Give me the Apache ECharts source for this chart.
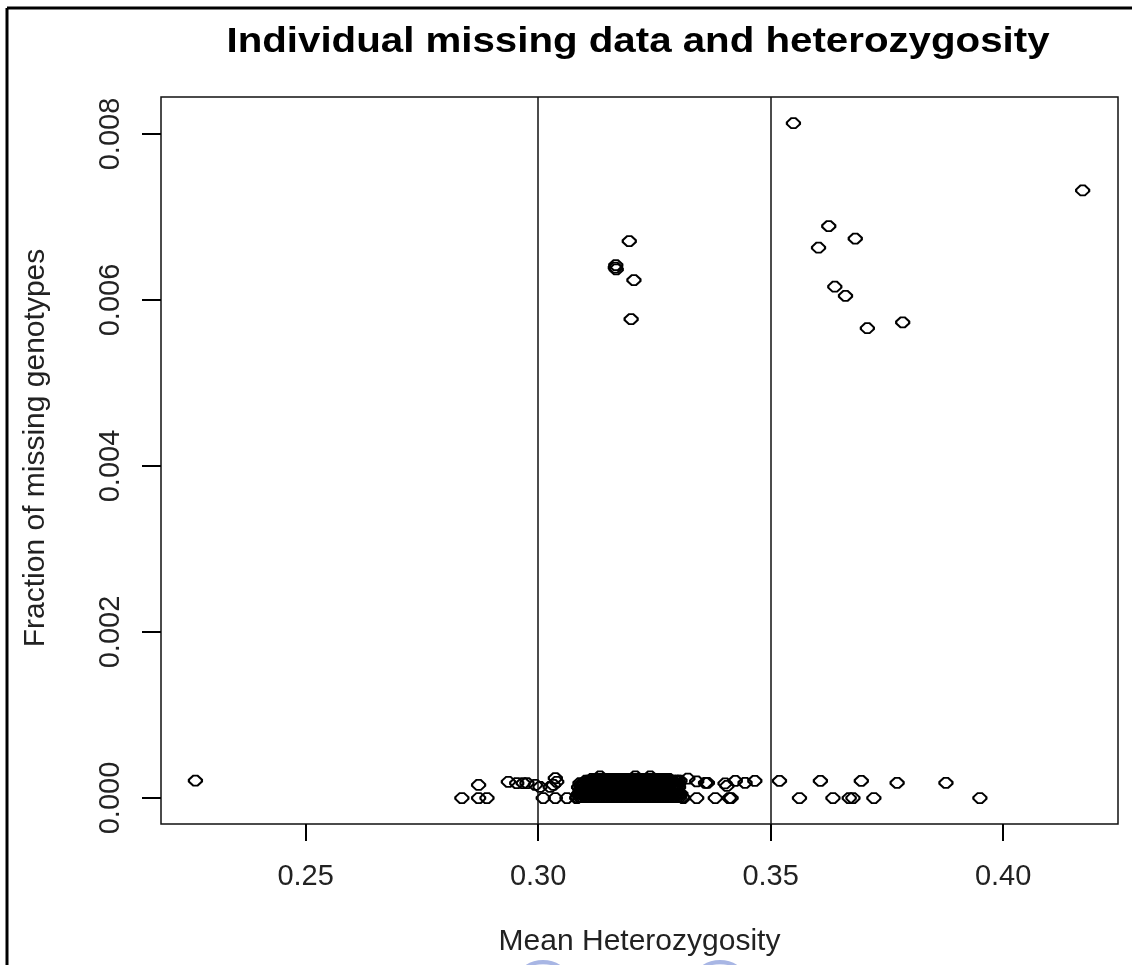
<!DOCTYPE html>
<html>
<head>
<meta charset="utf-8">
<script src="https://cdn.jsdelivr.net/npm/echarts@6/dist/echarts.min.js"></script>
<style>
html,body{margin:0;padding:0;background:#fff;}
#chart{width:1132px;height:965px;}
</style>
</head>
<body>
<div id="chart"></div>
<script>
const chartTitle = 'Individual missing data and heterozygosity';
const xName = 'Mean Heterozygosity';
const yName = 'Fraction of missing genotypes';
const xTicks = [0.25, 0.30, 0.35, 0.40];
const yTicks = [0.000, 0.002, 0.004, 0.006, 0.008];
const thresholds = [0.30, 0.35];

// isolated high-missingness individuals
const upperHet  = [0.3196, 0.3167, 0.3168, 0.3166, 0.3206, 0.3200, 0.3549, 0.4171, 0.3625, 0.3682, 0.3603, 0.3638, 0.3661, 0.3708, 0.3784];
const upperMiss = [0.00671, 0.00642, 0.00637, 0.00639, 0.00624, 0.00577, 0.00813, 0.00732, 0.00689, 0.00674, 0.00663, 0.00616, 0.00605, 0.00566, 0.00573];

// low-missingness individuals around the main cluster
const lowHet  = [0.2263, 0.2836, 0.2872, 0.2872, 0.2890, 0.2936, 0.2954, 0.2968, 0.2976, 0.2994, 0.3004, 0.3011, 0.3026, 0.3033, 0.3037, 0.3040, 0.3037, 0.3062, 0.3083, 0.3090, 0.3087,
                 0.3305, 0.3322, 0.3341, 0.3360, 0.3364, 0.3312, 0.3341, 0.3381, 0.3402, 0.3406, 0.3411, 0.3415, 0.3424, 0.3445, 0.3466, 0.3519, 0.3607, 0.3695, 0.3772, 0.3877, 0.3562, 0.3634, 0.3669, 0.3677, 0.3722, 0.3950];
const lowMiss = [0.00021, 0, 0.000157, 0, 0, 0.000196, 0.00018, 0.00018, 0.00018, 0.000157, 0.000133, 0, 0.000133, 0.000157, 0.00024, 0.000196, 0, 0, 0, 0.00018, 0.00013,
                 0.00021, 0.000235, 0.0002, 0.000183, 0.000183, 0, 0, 0, 0.000175, 0.000145, 0, 0, 0.000207, 0.000183, 0.000207, 0.000207, 0.000207, 0.000207, 0.000183, 0.000183, 0, 0, 0, 0, 0, 0];

// dense core: missingness level of each row and heterozygosity of its members
const coreMiss = [0.00001, 0.00005, 0.00009, 0.00013, 0.00017, 0.00021, 0.00023];
const coreHet0 = [0.3084,0.3090,0.3095,0.3101,0.3106,0.3112,0.3117,0.3123,0.3128,0.3134,0.3139,0.3145,0.3150,0.3156,0.3161,0.3167,0.3172,0.3178,0.3183,0.3189,0.3194,0.3200,0.3205,0.3211,0.3216,0.3222,0.3227,0.3233,0.3238,0.3244,0.3249,0.3255,0.3260,0.3266,0.3271,0.3277,0.3282,0.3288,0.3293,0.3299,0.3304,0.3310];
const coreHet1 = [0.3087,0.3093,0.3098,0.3104,0.3109,0.3115,0.3120,0.3126,0.3131,0.3137,0.3142,0.3148,0.3153,0.3159,0.3164,0.3170,0.3175,0.3181,0.3186,0.3192,0.3197,0.3203,0.3208,0.3214,0.3219,0.3225,0.3230,0.3236,0.3241,0.3247,0.3252,0.3258,0.3263,0.3269,0.3274,0.3280,0.3285,0.3291,0.3296,0.3302,0.3307];
const coreHet2 = [0.3090,0.3095,0.3101,0.3106,0.3112,0.3117,0.3123,0.3128,0.3134,0.3139,0.3145,0.3150,0.3156,0.3161,0.3167,0.3172,0.3178,0.3183,0.3189,0.3194,0.3200,0.3205,0.3211,0.3216,0.3222,0.3227,0.3233,0.3238,0.3244,0.3249,0.3254];
const coreHet3 = [0.3088,0.3093,0.3099,0.3104,0.3110,0.3115,0.3121,0.3126,0.3132,0.3137,0.3143,0.3148,0.3154,0.3159,0.3165,0.3170,0.3176,0.3181,0.3187,0.3192,0.3198,0.3203,0.3209,0.3214,0.3220,0.3225,0.3231,0.3236,0.3242,0.3247,0.3253,0.3258,0.3264,0.3269,0.3275,0.3280,0.3286,0.3291,0.3297,0.3302];
const coreHet4 = [0.3094,0.3099,0.3105,0.3110,0.3116,0.3121,0.3127,0.3132,0.3138,0.3143,0.3149,0.3154,0.3160,0.3165,0.3171,0.3176,0.3182,0.3187,0.3193,0.3198,0.3204,0.3209,0.3215,0.3220,0.3226,0.3231,0.3237,0.3242,0.3248,0.3253,0.3259,0.3264,0.3270,0.3275,0.3281,0.3286,0.3292,0.3297,0.3302];
const coreHet5 = [0.3103,0.3108,0.3114,0.3119,0.3125,0.3130,0.3136,0.3141,0.3147,0.3152,0.3158,0.3163,0.3169,0.3174,0.3180,0.3185,0.3191,0.3196,0.3202,0.3207,0.3213,0.3218,0.3224,0.3229,0.3235,0.3240,0.3246,0.3251,0.3257,0.3262,0.3268,0.3273,0.3279,0.3284,0.3290,0.3296,0.3301];
const coreHet6 = [0.3116,0.3122,0.3127,0.3133,0.3138,0.3144,0.3149,0.3155,0.3160,0.3166,0.3171,0.3177,0.3182,0.3188,0.3193,0.3199,0.3204,0.3210,0.3215,0.3221,0.3226,0.3232,0.3237,0.3243,0.3248,0.3254,0.3259,0.3265,0.3270,0.3276,0.3281];
const peakHet  = [0.3133, 0.3209, 0.3241];
const peakMiss = [0.00026, 0.00026, 0.00026];

const points = [];
upperHet.forEach((h, i) => points.push([h, upperMiss[i]]));
lowHet.forEach((h, i) => points.push([h, lowMiss[i]]));
[coreHet0, coreHet1, coreHet2, coreHet3, coreHet4, coreHet5, coreHet6].forEach((row, r) => row.forEach(h => points.push([h, coreMiss[r]])));
peakHet.forEach((h, i) => points.push([h, peakMiss[i]]));

const FONT = '"Liberation Sans", Arial, sans-serif';
const chart = echarts.init(document.getElementById('chart'), null, {renderer: 'canvas'});
chart.setOption({
  animation: false,
  backgroundColor: '#fff',
  grid: {left: 161, right: 14, top: 97, bottom: 141, show: true, borderColor: '#111', borderWidth: 1.5, backgroundColor: 'transparent'},
  xAxis: {
    type: 'value', min: 0.2189, max: 0.4247, position: 'bottom',
    splitLine: {show: false}, axisLine: {show: false, onZero: false},
    axisTick: {show: true, customValues: xTicks, length: 17, lineStyle: {color: '#000', width: 2}},
    axisLabel: {customValues: xTicks, formatter: v => v.toFixed(2), margin: 38, fontSize: 29, fontFamily: FONT, color: '#222'},
    name: xName, nameLocation: 'middle', nameGap: 103,
    nameTextStyle: {fontSize: 30, fontFamily: FONT, color: '#222'}
  },
  yAxis: {
    type: 'value', min: -0.000313, max: 0.008446, position: 'left',
    splitLine: {show: false}, axisLine: {show: false, onZero: false},
    axisTick: {show: true, customValues: yTicks, length: 19, lineStyle: {color: '#000', width: 2}},
    axisLabel: {customValues: yTicks, formatter: v => v.toFixed(3), rotate: 90, margin: 36, fontSize: 29, fontFamily: FONT, color: '#222'}
  },
  series: [{
    type: 'scatter',
    data: points,
    symbol: 'path://M4,0 L8,0 L12,4 L12,6 L8,10 L4,10 L0,6 L0,4 Z',
    symbolSize: [13, 10],
    itemStyle: {color: 'rgba(0,0,0,0)', borderColor: '#000', borderWidth: 2, opacity: 1},
    emphasis: {disabled: true},
    silent: true,
    markLine: {
      silent: true, symbol: ['none', 'none'], label: {show: false},
      lineStyle: {color: '#111', width: 1.5, type: 'solid'},
      data: thresholds.map(v => ({xAxis: v}))
    }
  }],
  graphic: [
    {type: 'line', shape: {x1: 7, y1: 8, x2: 1132, y2: 8}, style: {stroke: '#000', lineWidth: 3}},
    {type: 'line', shape: {x1: 7, y1: 8, x2: 7, y2: 965}, style: {stroke: '#000', lineWidth: 3}},
    {type: 'circle', shape: {cx: 543, cy: 992, r: 30}, style: {fill: '#e3e8f8', stroke: '#a8b6e4', lineWidth: 4}},
    {type: 'circle', shape: {cx: 720, cy: 992, r: 30}, style: {fill: '#e3e8f8', stroke: '#a8b6e4', lineWidth: 4}},
    {type: 'text', x: 638, y: 42, scaleX: 1.15,
     style: {text: chartTitle, font: 'bold 35px ' + FONT, fill: '#000', align: 'center', verticalAlign: 'middle'}},
    {type: 'text', x: 36, y: 448, rotation: Math.PI / 2,
     style: {text: yName, font: '30px ' + FONT, fill: '#222', align: 'center', verticalAlign: 'middle'}}
  ]
});
</script>
</body>
</html>
